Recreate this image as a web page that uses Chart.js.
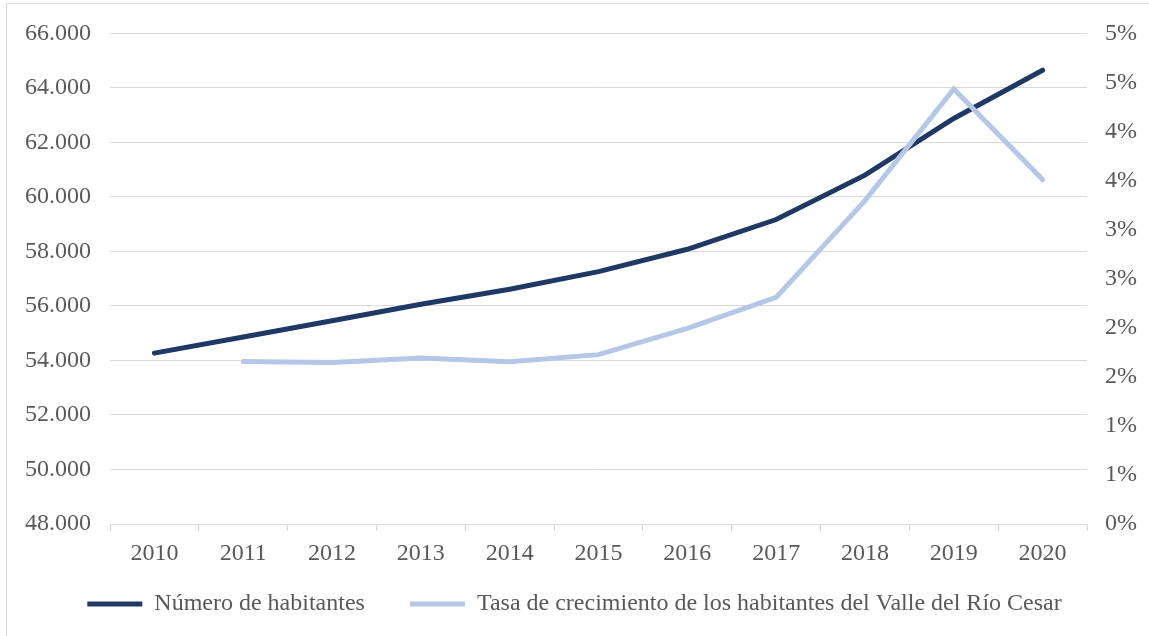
<!DOCTYPE html>
<html>
<head>
<meta charset="utf-8">
<script src="https://cdn.jsdelivr.net/npm/chart.js"></script>
<style>
  html, body { margin: 0; padding: 0; background: #fff; overflow: hidden; }
  #marco { position: absolute; left: 6px; top: 3px; width: 1300px; height: 800px; border: 1px solid #d9d9d9; }
  #grafico { position: absolute; left: 0; top: 0; }
</style>
</head>
<body>
<div id="marco"></div>
<canvas id="grafico" width="1149" height="636"></canvas>
<script>
// datos
const anios = ['2010', '2011', '2012', '2013', '2014', '2015', '2016', '2017', '2018', '2019', '2020'];
const habitantes = [54270, 54860, 55460, 56065, 56615, 57260, 58080, 59170, 60800, 62880, 64650];
const tasaCrecimiento = [null, 0.01657, 0.01647, 0.01692, 0.01654, 0.01726, 0.01994, 0.02310, 0.03296, 0.04434, 0.03510];

const colorOscuro = '#203864';
const colorClaro = '#b4c7e7';
const colorTexto = '#595959';
const colorGrilla = '#d9d9d9';
const fuente = { family: '"Liberation Serif", "Times New Roman", serif', size: 24 };

function miles(v) {
    return String(Math.round(v)).replace(/\B(?=(\d{3})+(?!\d))/g, '.');
}

const ctx = document.getElementById('grafico');
const chart = new Chart(ctx, {
    type: 'line',
    data: {
        labels: anios,
        datasets: [{
            label: 'Número de habitantes',
            data: habitantes,
            yAxisID: 'y',
            borderColor: colorOscuro,
            backgroundColor: colorOscuro,
            borderWidth: 5,
            borderCapStyle: 'round',
            pointRadius: 0,
            pointStyle: 'line',
            tension: 0,
            order: 1
        }, {
            label: 'Tasa de crecimiento de los habitantes del Valle del Río Cesar',
            data: tasaCrecimiento,
            yAxisID: 'y1',
            borderColor: colorClaro,
            backgroundColor: colorClaro,
            borderWidth: 5,
            borderCapStyle: 'round',
            pointRadius: 0,
            pointStyle: 'line',
            tension: 0,
            order: 0
        }]
    },
    options: {
        responsive: false,
        animation: false,
        devicePixelRatio: 1,
        layout: { padding: { top: 33, left: 0, right: 0, bottom: 10 } },
        plugins: {
            tooltip: { enabled: false },
            legend: {
                position: 'bottom',
                labels: {
                    usePointStyle: true,
                    pointStyleWidth: 55,
                    boxHeight: 5,
                    padding: 45,
                    color: colorTexto,
                    font: fuente,
                    sort: (a, b) => a.datasetIndex - b.datasetIndex
                }
            }
        },
        scales: {
            x: {
                offset: true,
                grid: {
                    offset: true,
                    drawOnChartArea: false,
                    drawTicks: true,
                    tickLength: 7,
                    tickColor: colorGrilla
                },
                border: { display: true, color: colorGrilla },
                ticks: { color: colorTexto, font: fuente, padding: 8, maxRotation: 0 },
                // eje mas bajo para acercar la leyenda; las etiquetas no se recortan
                afterFit: s => {
                    s.height = 23;
                    s._computeLabelArea = () => null;
                }
            },
            y: {
                position: 'left',
                min: 48000,
                max: 66000,
                ticks: { stepSize: 2000, color: colorTexto, font: fuente, padding: 19, callback: v => miles(v) },
                grid: { color: colorGrilla, drawTicks: false },
                border: { display: false },
                afterFit: s => { s.width = 110; }
            },
            y1: {
                position: 'right',
                min: 0,
                max: 0.05,
                ticks: {
                    stepSize: 0.005,
                    color: colorTexto,
                    font: fuente,
                    padding: 18,
                    callback: v => Math.round(Math.round(v * 1000) / 10) + '%'
                },
                grid: { drawOnChartArea: false, drawTicks: false },
                border: { display: false },
                afterFit: s => { s.width = 62; }
            }
        }
    }
});
</script>
</body>
</html>
